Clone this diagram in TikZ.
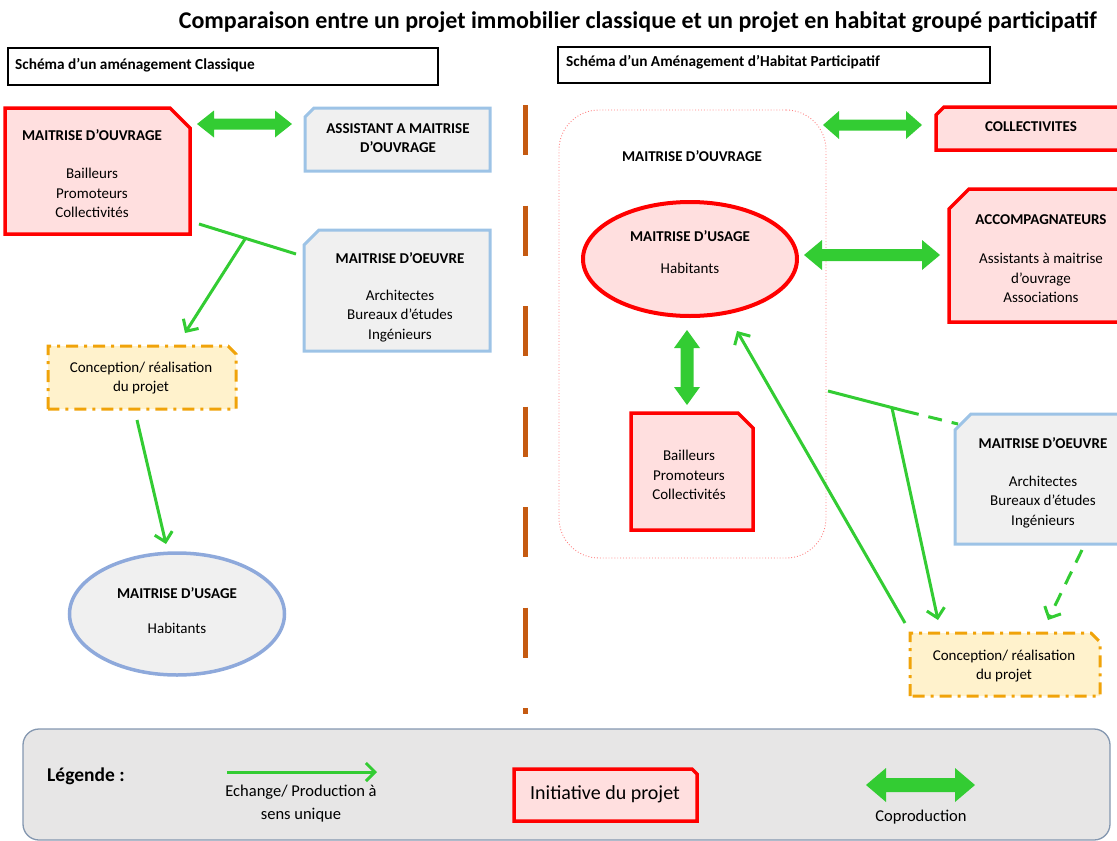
\documentclass[tikz,border=0pt]{standalone}
\usepackage{fontspec}
\setmainfont{Carlito}
\usetikzlibrary{fit,arrows.meta,calc,shapes.geometric}

\definecolor{grn}{HTML}{33CC33}
\definecolor{rd}{HTML}{FF0000}
\definecolor{pinkfill}{HTML}{FFDFDF}
\definecolor{greyfill}{HTML}{F0F0F0}
\definecolor{lblue}{HTML}{9DC3E6}
\definecolor{mblue}{HTML}{8EA9DB}
\definecolor{orng}{HTML}{F0A30A}
\definecolor{yfill}{HTML}{FFF2CC}
\definecolor{divbrown}{HTML}{C55A11}
\definecolor{dotpink}{HTML}{FF8080}
\definecolor{legfill}{HTML}{E7E6E6}
\definecolor{legborder}{HTML}{8497B0}

\tikzset{
  area/.style={inner sep=0pt, outer sep=0pt},
  redbox/.style={draw=rd, line width=3.5pt, fill=pinkfill, line join=miter},
  bluebox/.style={draw=lblue, line width=3pt, fill=greyfill, line join=miter},
  orangebox/.style={draw=orng, line width=3pt, fill=yfill, dash pattern=on 12pt off 6pt on 3pt off 6pt},
  greenline/.style={draw=grn, line width=3pt},
  greenarrow/.style={greenline, -{Straight Barb[length=9pt,width=18pt,line width=3pt]}},
  txt/.style={inner sep=0pt, align=center, font=\fontsize{15}{19.5}\selectfont},
  hd/.style={inner sep=0pt, align=center, font=\bfseries\fontsize{15}{19.5}\selectfont},
  hdr/.style={inner sep=0pt, anchor=west, font=\bfseries\fontsize{15.3}{18}\selectfont},
  legtxt/.style={inner sep=0pt, align=center, font=\fontsize{16.5}{23}\selectfont},
}

% chamfered outlines drawn from a node's anchors
\newcommand{\cutTR}[3]{\draw[#2] (#1.south west) -- (#1.north west) -- ([xshift=-#3pt]#1.north east) -- ([yshift=-#3pt]#1.north east) -- (#1.south east) -- cycle;}
\newcommand{\cutTL}[3]{\draw[#2] (#1.south west) -- ([yshift=-#3pt]#1.north west) -- ([xshift=#3pt]#1.north west) -- (#1.north east) -- (#1.south east) -- cycle;}
% horizontal / vertical double block arrows: a1, a2, c, H, h, L
\newcommand{\hdarrow}[6]{\fill[grn] (#1,#3) -- (#1+#6,#3-#4) -- (#1+#6,#3-#5) -- (#2-#6,#3-#5) -- (#2-#6,#3-#4) -- (#2,#3) -- (#2-#6,#3+#4) -- (#2-#6,#3+#5) -- (#1+#6,#3+#5) -- (#1+#6,#3+#4) -- cycle;}
\newcommand{\vdarrow}[6]{\fill[grn] (#3,#1) -- (#3-#4,#1+#6) -- (#3-#5,#1+#6) -- (#3-#5,#2-#6) -- (#3-#4,#2-#6) -- (#3,#2) -- (#3+#4,#2-#6) -- (#3+#5,#2-#6) -- (#3+#5,#1+#6) -- (#3+#4,#1+#6) -- cycle;}

\begin{document}
\begin{tikzpicture}[x=1pt,y=-1pt]
\useasboundingbox (0,0) rectangle (1117,841);
\clip (0,0) rectangle (1117,841);

% ---------- title and headers ----------
\node[inner sep=0pt, anchor=east, font=\bfseries\fontsize{24}{28}\selectfont] (title) at (1097,22) {Comparaison entre un projet immobilier classique et un projet en habitat groupé participatif};
\node[area, draw=black, line width=1.3pt, fit={(8,48) (438,85)}] (hdrL) {};
\node[hdr] (hdrLt) at (15,65) {Schéma d’un aménagement Classique};
\node[area, draw=black, line width=1.3pt, fit={(558,47) (990,83)}] (hdrR) {};
\node[hdr] (hdrRt) at (566,62) {Schéma d’un Aménagement d’Habitat Participatif};

% ---------- divider ----------
\draw[divbrown, line width=5pt, dash pattern=on 50pt off 50.5pt] (525,105) -- (525,714);

% ---------- left scheme ----------
\node[area, fit={(5,108) (190,234)}] (moaL) {};
\cutTR{moaL}{redbox}{20}
\node[hd] at (92,135) {MAITRISE D’OUVRAGE};
\node[txt] at (92,193) {Bailleurs\\Promoteurs\\Collectivités};

\hdarrow{197}{292}{124}{13.5}{5.5}{17}

\node[area, fit={(305,108) (490,171)}] (amoL) {};
\cutTL{amoL}{bluebox}{9}
\node[hd] at (398,138) {ASSISTANT A MAITRISE\\D’OUVRAGE};

\node[area, fit={(304,230) (490,351)}] (moeL) {};
\cutTL{moeL}{bluebox}{15}
\node[hd] at (400,258) {MAITRISE D’OEUVRE};
\node[txt] at (400,316) {Architectes\\Bureaux  d’études\\Ingénieurs};

\node[area, fit={(48,346) (236,409)}] (concL) {};
\cutTR{concL}{orangebox}{8}
\node[txt] at (141,378) {Conception/ réalisation\\du projet};

\node[area, draw=mblue, line width=3.5pt, fill=greyfill, ellipse, minimum width=215pt, minimum height=122pt] (usaL) at (177,614) {};
\node[hd] at (177,593) {MAITRISE D’USAGE};
\node[txt] at (177,628) {Habitants};

% left connectors
\coordinate (tLa) at (199,224);
\coordinate (tLb) at (296,254);
\coordinate (tLj) at (245,239);
\coordinate (tLtip) at (185,333);
\coordinate (cLa) at (137,420);
\coordinate (cLtip) at (166,544);
\draw[greenline] (tLa) -- (tLb);
\draw[greenarrow] (tLj) -- (tLtip);
\draw[greenarrow] (cLa) -- (cLtip);

% ---------- right scheme ----------
\node[area, draw=dotpink, line width=0.9pt, dotted, rounded corners=40pt, fit={(559,110) (826,558)}] (moaR) {};
\node[hd] at (692,156) {MAITRISE D’OUVRAGE};

\node[area, draw=rd, line width=4pt, fill=pinkfill, ellipse, minimum width=214pt, minimum height=114pt] (usaR) at (690,259) {};
\node[hd] at (690,236) {MAITRISE D’USAGE};
\node[txt] at (690,268) {Habitants};

\vdarrow{330}{405}{687}{13}{6.5}{18}

\node[area, fit={(631,413) (753,530)}] (baiR) {};
\cutTR{baiR}{redbox}{15}
\node[txt] at (689,475) {Bailleurs\\Promoteurs\\Collectivités};

\hdarrow{823}{922}{125}{14}{5.5}{16}
\node[area, fit={(936,107) (1130,150)}] (colR) {};
\cutTL{colR}{redbox}{8}
\node[hd] at (1031,127) {COLLECTIVITES};

\hdarrow{804}{940}{255}{15}{6}{18}
\node[area, fit={(949,189) (1130,322)}] (accR) {};
\cutTL{accR}{redbox}{20}
\node[hd] at (1041,220) {ACCOMPAGNATEURS};
\node[txt] at (1041,278) {Assistants  à maitrise\\d’ouvrage\\Associations};

\node[area, fit={(955,414) (1130,544)}] (moeR) {};
\cutTL{moeR}{bluebox}{16}
\node[hd] at (1043,443) {MAITRISE D’OEUVRE};
\node[txt] at (1043,502) {Architectes\\Bureaux  d’études\\Ingénieurs};

\node[area, fit={(910,633) (1100,696)}] (concR) {};
\cutTR{concR}{orangebox}{9}
\node[txt] at (1004,666) {Conception/ réalisation\\du projet};

% right connectors
\coordinate (tRa) at (828,391);
\coordinate (tRj) at (892,408);
\coordinate (tRs) at (905,411);
\coordinate (tRb) at (958,424);
\coordinate (tRtip) at (938,620);
\coordinate (lRa) at (905,623);
\coordinate (lRtip) at (737,331);
\coordinate (dRa) at (1082,550);
\coordinate (dRtip) at (1048,620);
\draw[greenline] (tRa) -- (tRs);
\draw[greenline, dash pattern=on 14pt off 10pt] (tRs) -- (tRb);
\draw[greenarrow] (tRj) -- (tRtip);
\draw[greenarrow] (lRa) -- (lRtip);
\draw[greenarrow, dash pattern=on 14pt off 10pt] (dRa) -- (dRtip);

% ---------- legend ----------
\node[area, draw=legborder, line width=1.3pt, fill=legfill, rounded corners=16pt, fit={(23,729) (1110,840)}] (legend) {};
\node[inner sep=0pt, anchor=west, font=\bfseries\fontsize{19.5}{22}\selectfont] (legtitle) at (47,776) {Légende :};
\coordinate (lgA) at (227,772);
\coordinate (lgB) at (377,772);
\draw[greenarrow] (lgA) -- (lgB);
\node[legtxt] at (301,804) {Echange/ Production à\\sens unique};
\node[area, fit={(514,769) (697,821)}] (initL) {};
\cutTR{initL}{redbox}{5}
\node[inner sep=0pt, font=\fontsize{20}{23}\selectfont] at (605,794) {Initiative du projet};
\hdarrow{866}{975}{785}{17}{7}{20}
\node[legtxt] at (921,817) {Coproduction};
\end{tikzpicture}
\end{document}
